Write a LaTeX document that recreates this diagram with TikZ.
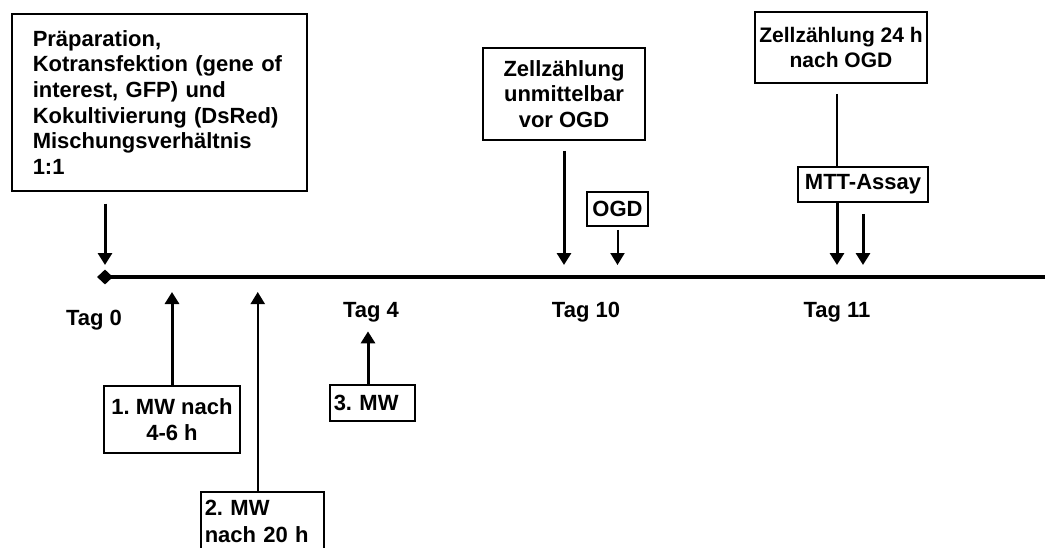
\documentclass[tikz,border=0pt]{standalone}
\usepackage{fontspec}
\setmainfont{Liberation Sans}
\usetikzlibrary{arrows.meta,shapes.geometric}
\frenchspacing

\tikzset{
	box/.style={draw, line width=1.5pt, fill=white, inner sep=0pt, font=\bfseries\fontsize{22}{25.6}\selectfont},
	tag/.style={anchor=base, inner sep=0pt, font=\bfseries\fontsize{22}{25.6}\selectfont},
	arr/.style={line width=3pt, -{Triangle[width=14pt,length=12pt]}},
	thinarr/.style={line width=2pt, -{Triangle[width=14pt,length=12pt]}},
}

\begin{document}
\begin{tikzpicture}[x=1pt, y=-1pt]
		\useasboundingbox (0,0) rectangle (1045,547);
		\clip (0,0) rectangle (1045,547);
		\coordinate (t0) at (105,277);
		\coordinate (tend) at (1045,277);
		\draw[line width=4pt] (t0) -- (tend);
		\node[diamond, fill=black, inner sep=0pt, minimum width=16pt, minimum height=15pt] (start) at (t0) {};
		\node[box, anchor=north west, align=left, text width=253pt, inner xsep=21pt, minimum height=177pt] (prep) at (11,13) {Präparation,\\ Kotransfektion (gene of\\ interest, GFP) und\\ Kokultivierung (DsRed)\\ Mischungsverhältnis\\ 1:1};
		\node[box, minimum width=162pt, minimum height=92pt, align=center] (zvor) at (564,94) {Zellzählung\\ unmittelbar\\ vor OGD};
		\node[box, minimum width=61pt, minimum height=34pt] (ogd) at (617.5,209) {OGD};
		\node[box, minimum width=172pt, minimum height=71pt, align=center, font=\bfseries\fontsize{21}{25.6}\selectfont] (z24) at (841,47.5) {Zellzählung 24 h\\ nach OGD};
		\node[box, minimum width=130pt, minimum height=35pt] (mtt) at (863,184.5) {MTT-Assay};
		\node[box, minimum width=136pt, minimum height=67pt, align=center] (mw1) at (172,419.5) {1. MW nach\\ 4-6 h};
		\node[box, anchor=north west, align=left, text width=115pt, inner xsep=4pt, minimum height=59pt, font=\bfseries\fontsize{22}{27}\selectfont] (mw2) at (200,491) {2. MW\\ nach 20 h};
		\node[box, anchor=north west, align=left, text width=77pt, inner xsep=4pt, minimum height=36pt] (mw3) at (329,384) {3. MW};
		\node[tag] (tag0) at (94,325) {Tag 0};
		\node[tag] (tag4) at (371,317) {Tag 4};
		\node[tag] (tag10) at (586,317) {Tag 10};
		\node[tag] (tag11) at (837,317) {Tag 11};
		\draw[arr] ([yshift=-12pt]prep.south -| start) -- ([yshift=12pt]start.center);
		\draw[arr] (mw1.north) -- ([yshift=-15pt]mw1.north |- start);
		\draw[thinarr] ([xshift=-4.5pt]mw2.north) -- ([xshift=-4.5pt,yshift=-15pt]mw2.north |- start);
		\draw[arr] ([xshift=-3pt]tag4.south |- mw3.north) -- ([xshift=-3pt,yshift=-9.5pt]tag4.south);
		\draw[arr] ([yshift=-10pt]zvor.south) -- ([yshift=12pt]zvor.south |- start);
		\draw[thinarr] ([yshift=-3pt]ogd.south) -- ([yshift=12pt]ogd.south |- start);
		\draw[line width=2pt] ([yshift=-10pt]z24.south -| tag11) -- (mtt.north -| tag11);
		\draw[arr] (mtt.south -| tag11) -- ([yshift=12pt]tag11 |- start);
		\draw[arr] ([yshift=-11pt]mtt.south) -- ([yshift=12pt]mtt.south |- start);
	\end{tikzpicture}
\end{document}
